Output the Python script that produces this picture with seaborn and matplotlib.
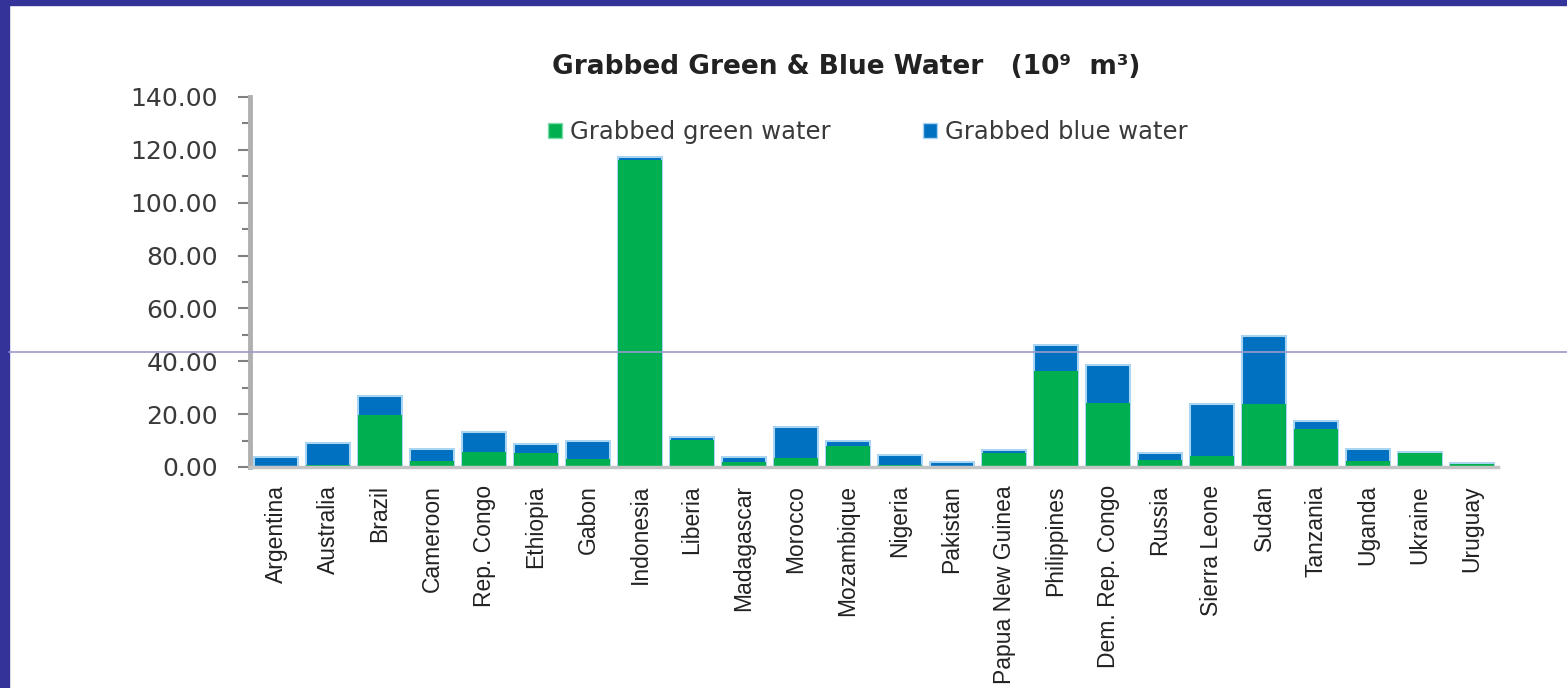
import pandas as pd
import matplotlib
matplotlib.use("Agg")
import matplotlib.pyplot as plt
from matplotlib.patches import Rectangle, Patch
from matplotlib.lines import Line2D
from matplotlib.ticker import MultipleLocator, FormatStrFormatter
import seaborn as sns

# values (10^9 m3)
countries = ["Argentina", "Australia", "Brazil", "Cameroon", "Rep. Congo", "Ethiopia",
             "Gabon", "Indonesia", "Liberia", "Madagascar", "Morocco", "Mozambique",
             "Nigeria", "Pakistan", "Papua New Guinea", "Philippines", "Dem. Rep. Congo",
             "Russia", "Sierra Leone", "Sudan", "Tanzania", "Uganda", "Ukraine", "Uruguay"]
green_water = [0.5, 0.8, 19.6, 2.3, 5.5, 5.4, 2.9, 116.2, 10.2, 1.8, 3.3, 7.9,
               0.8, 0.5, 5.2, 36.3, 24.3, 2.6, 4.2, 24.0, 14.5, 2.4, 5.2, 1.2]
blue_water = [3.3, 8.1, 7.2, 4.7, 7.6, 3.2, 6.8, 1.2, 1.0, 2.1, 11.9, 1.9,
              3.7, 1.5, 1.2, 9.7, 14.2, 2.8, 19.8, 25.4, 3.0, 4.6, 0.6, 0.3]
y_ticks = [0, 20, 40, 60, 80, 100, 120, 140]

GREEN = "#00B050"
BLUE = "#0070C0"

df = pd.DataFrame({"country": countries, "green": green_water, "blue": blue_water})
df["total"] = df["green"] + df["blue"]

sns.set_theme(style="white")
plt.rcParams["font.family"] = ["DejaVu Sans"]

fig = plt.figure(figsize=(15.67, 6.88), dpi=100)
ax = fig.add_axes([250 / 1567, 1 - 467 / 688, 1248 / 1567, 370 / 688])

# stacked bars: total (blue) behind, green in front
sns.barplot(data=df, x="country", y="total", order=countries, color=BLUE, saturation=1,
            width=0.84, errorbar=None, edgecolor="#a9d5f3", linewidth=1.5, ax=ax)
sns.barplot(data=df, x="country", y="green", order=countries, color=GREEN, saturation=1,
            width=0.84, errorbar=None, linewidth=0, ax=ax)

ax.set_xlim(-0.5, len(countries) - 0.5)
ax.set_ylim(0, 140)
ax.set_yticks(y_ticks)
ax.yaxis.set_minor_locator(MultipleLocator(10))
ax.yaxis.set_major_formatter(FormatStrFormatter("%.2f"))
ax.set_xlabel("")
ax.set_ylabel("")

for s in ["top", "right"]:
    ax.spines[s].set_visible(False)
ax.spines["left"].set_color("#b0b0b0")
ax.spines["left"].set_linewidth(3.5)
ax.spines["bottom"].set_color("#c4c4c4")
ax.spines["bottom"].set_linewidth(2.5)

ax.tick_params(axis="y", which="major", left=True, length=9, width=1.5, color="#808080",
               labelsize=18, labelcolor="#3a3a3a", pad=14)
ax.tick_params(axis="y", which="minor", left=True, length=6, width=1.5, color="#808080")
ax.tick_params(axis="x", bottom=False, pad=7)
for lab in ax.get_xticklabels():
    lab.set_rotation(90)
    lab.set_family(["Liberation Sans", "DejaVu Sans"])
    lab.set_fontsize(16.5)
    lab.set_color("#222222")
    lab.set_ha("center")
    lab.set_va("top")

fig.text(846 / 1567, 1 - 67 / 688, "Grabbed Green & Blue Water   (10⁹  m³)",
         ha="center", va="center", fontsize=19, fontweight="bold", color="#222222")

handles = [Patch(facecolor=GREEN, edgecolor="#7fdcae"), Patch(facecolor=BLUE, edgecolor="#a9d5f3")]
fig.legend(handles, ["Grabbed green water", "Grabbed blue water"], loc="center left",
           bbox_to_anchor=(526 / 1567, 1 - 132 / 688), ncol=2, frameon=False,
           fontsize=17.5, handlelength=0.6, handleheight=0.6, handletextpad=0.3,
           columnspacing=3.8, labelcolor="#3a3a3a")

# slide frame and stray horizontal rule
fig.add_artist(Rectangle((0, 0), 9 / 1567, 1, transform=fig.transFigure,
                         color="#333399", zorder=10))
fig.add_artist(Rectangle((0, 1 - 5 / 688), 1, 5 / 688, transform=fig.transFigure,
                         color="#333399", zorder=10))
fig.add_artist(Line2D([9 / 1567, 1], [1 - 352 / 688, 1 - 352 / 688], transform=fig.transFigure,
                      color="#9a9acc", lw=1.2, zorder=10))

fig.savefig("out.png", dpi=100)
